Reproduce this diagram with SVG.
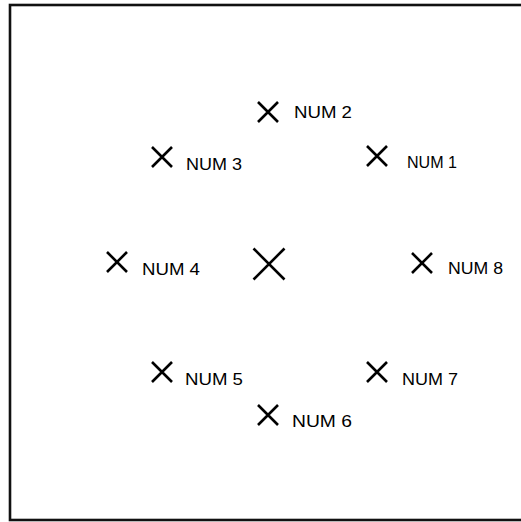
<svg xmlns="http://www.w3.org/2000/svg" width="521" height="522" viewBox="0 0 521 522">
<style>
.frame{fill:none;stroke:#111;stroke-width:2.6}
.x{stroke:#000;stroke-width:2.6;stroke-linecap:butt;fill:none}
.lbl{font-family:"Liberation Sans","DejaVu Sans",sans-serif;font-size:17px;fill:#000}
</style>
<defs>
<path id="xs" d="M-10,-10 L10,10 M10,-10 L-10,10"/>
<path id="xl" d="M-15.5,-15.5 L15.5,15.5 M15.5,-15.5 L-15.5,15.5"/>
</defs>
<rect class="frame" x="10" y="5" width="520" height="515"/>
<g id="connectors"></g>
<g id="num2"><use href="#xs" class="x" x="268" y="112"/><text class="lbl" x="294" y="118" textLength="58" lengthAdjust="spacingAndGlyphs">NUM 2</text></g>
<g id="num3"><use href="#xs" class="x" x="162" y="157"/><text class="lbl" x="186" y="170" textLength="56" lengthAdjust="spacingAndGlyphs">NUM 3</text></g>
<g id="num1"><use href="#xs" class="x" x="377" y="156"/><text class="lbl" x="407" y="168" textLength="50" lengthAdjust="spacingAndGlyphs">NUM 1</text></g>
<g id="num4"><use href="#xs" class="x" x="117" y="262"/><text class="lbl" x="142" y="275" textLength="58" lengthAdjust="spacingAndGlyphs">NUM 4</text></g>
<g id="center"><use href="#xl" class="x" x="269" y="264"/></g>
<g id="num8"><use href="#xs" class="x" x="422" y="263"/><text class="lbl" x="448" y="274" textLength="55" lengthAdjust="spacingAndGlyphs">NUM 8</text></g>
<g id="num5"><use href="#xs" class="x" x="162" y="372"/><text class="lbl" x="185" y="385" textLength="58" lengthAdjust="spacingAndGlyphs">NUM 5</text></g>
<g id="num7"><use href="#xs" class="x" x="377" y="372"/><text class="lbl" x="402" y="385" textLength="56" lengthAdjust="spacingAndGlyphs">NUM 7</text></g>
<g id="num6"><use href="#xs" class="x" x="268" y="415"/><text class="lbl" x="292" y="427" textLength="60" lengthAdjust="spacingAndGlyphs">NUM 6</text></g>
</svg>
